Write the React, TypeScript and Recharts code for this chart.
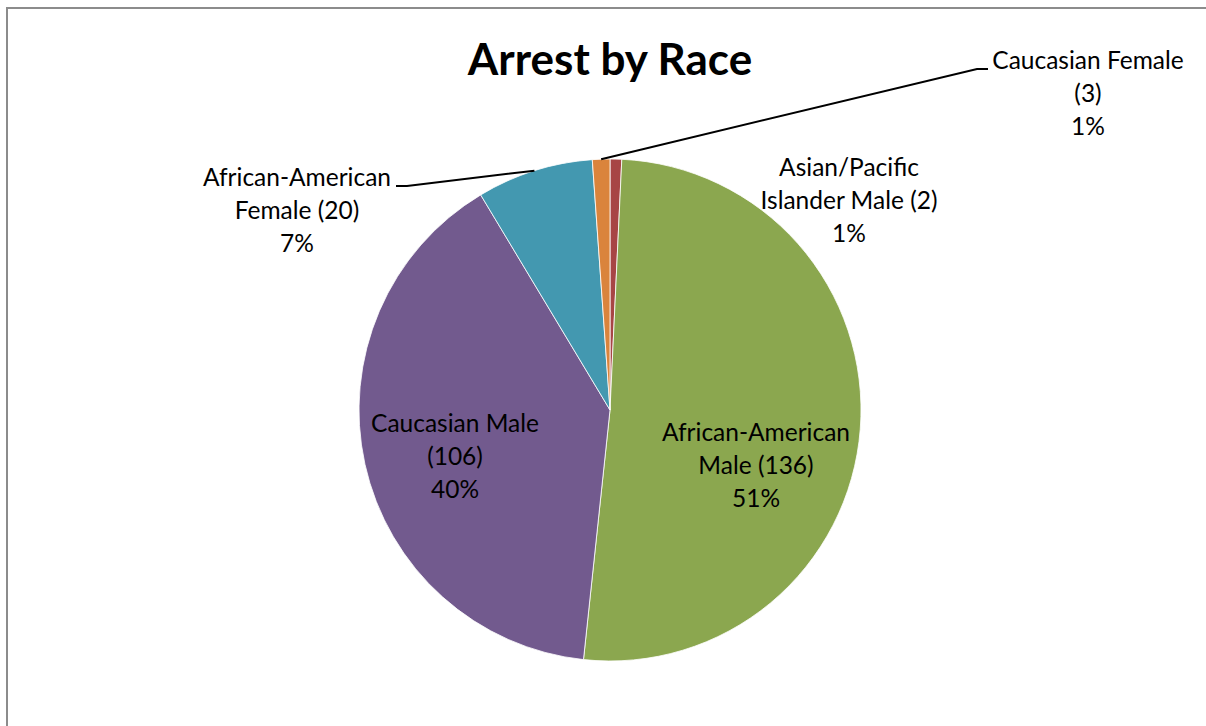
import React from 'react';
import { PieChart, Pie, Cell } from 'recharts';

const categories = [
  'Asian/Pacific Islander Male',
  'African-American Male',
  'Caucasian Male',
  'African-American Female',
  'Caucasian Female',
];
const arrests = [2, 136, 106, 20, 3];
const sliceColors = ['#A74545', '#8BA74F', '#725A8E', '#4398B0', '#DA843C'];

const data = categories.map((name, i) => ({ name, value: arrests[i] }));

// label placement relative to the pie centre (Excel "best fit" look)
const labelLayout = [
  { dx: 239, dy: -242, words: 1 },
  { dx: 146, dy: 23, words: 1 },
  { dx: -155, dy: 14, words: 2 },
  { dx: -313, dy: -232, words: 1, elbow: [-203, -224], end: [-214, -224] },
  { dx: 478, dy: -349, words: 2, elbow: [367, -341], end: [378, -341] },
];

const FONT = 'Lato, "Open Sans", sans-serif';
const RAD = Math.PI / 180;

const renderLabel = (props: any) => {
  const { cx, cy, midAngle, outerRadius, index, name, value, percent } = props;
  const lay = labelLayout[index];
  const words = `${name} (${value})`.split(' ');
  const lines = [
    words.slice(0, lay.words).join(' '),
    words.slice(lay.words).join(' '),
    `${Math.round(percent * 100)}%`,
  ];
  const x = cx + lay.dx;
  const y = cy + lay.dy + 8;
  let leader = null;
  if (lay.elbow) {
    const sx = cx + outerRadius * Math.cos(-midAngle * RAD);
    const sy = cy + outerRadius * Math.sin(-midAngle * RAD);
    const pts = `${sx},${sy} ${cx + lay.elbow[0]},${cy + lay.elbow[1]} ${cx + lay.end[0]},${cy + lay.end[1]}`;
    leader = <polyline points={pts} fill="none" stroke="#000" strokeWidth={2} />;
  }
  return (
    <g key={`lbl-${index}`}>
      {leader}
      <text x={x} y={y} textAnchor="middle" fill="#000" fontSize={24.5} fontFamily={FONT}>
        {lines.map((t, i) => (
          <tspan key={i} x={x} dy={i === 0 ? 0 : 33}>
            {t}
          </tspan>
        ))}
      </text>
    </g>
  );
};

export default function App() {
  return (
    <div style={{ position: 'fixed', left: 0, top: 0, width: 1206, height: 726, overflow: 'hidden', background: '#fff' }}>
      <div
        style={{
          position: 'absolute',
          left: 6,
          top: 7,
          width: 1230,
          height: 760,
          border: '2px solid #8c8c8c',
          boxSizing: 'border-box',
        }}
      />
      <div style={{ position: 'absolute', left: 0, top: 0 }}>
        <PieChart width={1206} height={726} margin={{ top: 0, right: 0, bottom: 0, left: 0 }}>
          <text x={610} y={75} textAnchor="middle" fontSize={44} fontWeight="bold" fontFamily={FONT} fill="#000">
            Arrest by Race
          </text>
          <Pie
            data={data}
            dataKey="value"
            nameKey="name"
            cx={610}
            cy={410}
            outerRadius={251}
            startAngle={90}
            endAngle={-270}
            stroke="#ffffff"
            strokeWidth={0.8}
            label={renderLabel}
            labelLine={false}
            isAnimationActive={false}
          >
            {data.map((d, i) => (
              <Cell key={d.name} fill={sliceColors[i]} />
            ))}
          </Pie>
        </PieChart>
      </div>
    </div>
  );
}
